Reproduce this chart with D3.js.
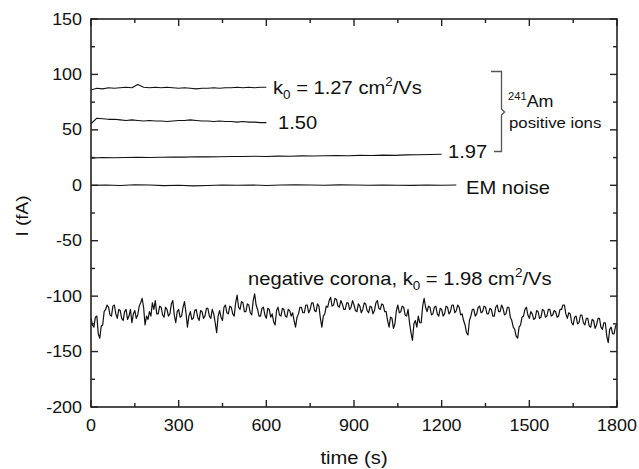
<!DOCTYPE html>
<html>
<head>
<meta charset="utf-8" />
<script src="https://d3js.org/d3.v7.min.js"></script>
<style>
  body { margin: 0; background: #fff; }
  text { font-family: Arial, "Liberation Sans", sans-serif; fill: #111; }
</style>
</head>
<body>
<svg width="639" height="469"></svg>
<script>
// time axis (s) and current (fA)
const xTicks = [0, 300, 600, 900, 1200, 1500, 1800]
const yTicks = [-200, -150, -100, -50, 0, 50, 100, 150]
const xMinor = [150, 450, 750, 1050, 1350, 1650]
const yMinor = [-175, -125, -75, -25, 25, 75, 125]

// 241Am positive ions, k0 = 1.27 (every 20 s, 0..600)
const t127 = d3.range(0, 601, 20)
const v127 = [86, 87.5, 87, 88, 87.5, 88, 88.5, 88, 91, 88.5, 88, 88.5, 88, 88.5, 88, 87.5,
  88, 87.5, 87, 87.5, 87.5, 88, 87.5, 88, 88, 88.5, 88, 88.5, 88, 88.5, 88.5]

// k0 = 1.50 (every 20 s, 0..600)
const t150 = d3.range(0, 601, 20)
const v150 = [55.5, 60.5, 60, 59.5, 59.5, 59, 58.5, 59, 58.5, 58, 58.5, 58, 58, 57.5, 58, 58.5,
  58.5, 59, 58.5, 58, 58, 57.5, 58, 57.5, 57.5, 57, 57.5, 57, 57, 56.5, 56.5]

// k0 = 1.97 (every 40 s, 0..1200)
const t197 = d3.range(0, 1201, 40)
const v197 = [24.5, 25, 24.8, 25, 25.2, 25, 25.3, 25.5, 25.4, 25.8, 25.6, 25.8, 26, 25.9, 26.2, 26,
  26.3, 26.2, 26.5, 26.4, 26.6, 26.8, 26.7, 27, 26.9, 27.2, 27, 27.4, 27.5, 27.8, 28]

// EM noise (every 50 s, 0..1250)
const tEM = d3.range(0, 1251, 50)
const vEM = [0, 0.3, -0.2, 0.5, 0.2, -0.3, 0, -0.5, -0.2, 0.2, 0, 0.3, -0.2, 0.2, 0.5, 0.3,
  0, 0.4, 0.2, 0, 0.3, 0.1, -0.1, 0.2, 0, 0.2]

// negative corona, k0 = 1.98 (every 5 s, 0..1800), one row = 100 s
const tNeg = d3.range(0, 1801, 5)
const vNeg = [
  -120, -126, -128, -119, -118, -134, -138, -127, -126, -114, -112, -108, -110, -117, -118, -109, -108, -116, -120, -112,
  -113, -120, -122, -114, -112, -121, -118, -112, -124, -116, -113, -120, -117, -109, -106, -102, -110, -126, -118, -121,
  -114, -118, -106, -112, -104, -116, -116, -109, -110, -117, -119, -110, -112, -118, -116, -107, -104, -117, -124, -114,
  -112, -119, -118, -110, -105, -115, -128, -118, -114, -121, -120, -113, -112, -119, -122, -113, -114, -120, -118, -111,
  -111, -118, -120, -112, -116, -124, -133, -118, -113, -119, -122, -110, -108, -115, -116, -109, -110, -116, -118, -106,
  -99, -110, -112, -105, -106, -114, -114, -107, -108, -115, -117, -104, -98, -108, -112, -118, -118, -111, -110, -117,
  -120, -111, -112, -119, -116, -123, -126, -113, -110, -117, -118, -111, -112, -118, -119, -112, -113, -118, -115, -122,
  -128, -119, -116, -110, -110, -115, -115, -108, -108, -115, -112, -106, -106, -113, -114, -107, -109, -120, -128, -118,
  -116, -109, -110, -104, -101, -109, -108, -102, -103, -109, -110, -104, -107, -112, -112, -106, -106, -112, -110, -104,
  -108, -113, -114, -107, -109, -115, -112, -106, -107, -113, -115, -109, -110, -116, -113, -106, -104, -111, -112, -107,
  -108, -114, -114, -122, -128, -119, -120, -129, -125, -113, -108, -115, -114, -109, -110, -117, -118, -112, -124, -133,
  -140, -125, -122, -128, -118, -124, -124, -109, -102, -110, -114, -109, -110, -117, -116, -110, -109, -116, -118, -111,
  -112, -118, -116, -109, -110, -116, -114, -108, -108, -115, -113, -108, -110, -117, -116, -122, -126, -133, -135, -122,
  -118, -112, -112, -118, -116, -110, -109, -115, -114, -109, -110, -116, -116, -111, -112, -118, -118, -110, -108, -114,
  -114, -108, -111, -117, -116, -110, -110, -119, -122, -128, -130, -136, -138, -128, -126, -119, -118, -112, -110, -117,
  -120, -114, -116, -121, -120, -113, -114, -120, -119, -112, -113, -119, -118, -112, -112, -118, -117, -113, -114, -119,
  -118, -112, -112, -108, -108, -116, -120, -115, -116, -124, -126, -119, -118, -125, -124, -117, -117, -124, -126, -120,
  -120, -127, -128, -121, -122, -129, -126, -120, -120, -128, -130, -124, -124, -136, -142, -130, -128, -134, -134, -127,
  -125]

const margin = { left: 91, top: 19, right: 22, bottom: 62 }
const W = 639 - margin.left - margin.right
const H = 469 - margin.top - margin.bottom
const stretch = 'scale(1.12,1)'

const svg = d3.select('svg')
const g = svg.append('g').attr('transform', `translate(${margin.left},${margin.top})`)

const x = d3.scaleLinear().domain([0, 1800]).range([0, W])
const y = d3.scaleLinear().domain([-200, 150]).range([H, 0])

const line = d3.line().x((d) => x(d[0])).y((d) => y(d[1]))
const pairs = (ts, vs) => ts.map((t, i) => [t, vs[i]])

const series = [
  [pairs(t127, v127), 1.1],
  [pairs(t150, v150), 1.1],
  [pairs(t197, v197), 1.1],
  [pairs(tEM, vEM), 1.1],
  [pairs(tNeg, vNeg), 1.2],
]
g.selectAll('path.s')
  .data(series)
  .enter()
  .append('path')
  .attr('class', 's')
  .attr('d', (d) => line(d[0]))
  .attr('fill', 'none')
  .attr('stroke', '#111')
  .attr('stroke-width', (d) => d[1])
  .attr('stroke-linejoin', 'round')

g.append('rect')
  .attr('width', W).attr('height', H)
  .attr('fill', 'none').attr('stroke', '#222').attr('stroke-width', 1.6)

// inward ticks on all four sides as small filled bars (major 7px, minor 4px)
const tickBars = []
xTicks.forEach((v) => tickBars.push({ ax: 'x', v, len: 7 }))
xMinor.forEach((v) => tickBars.push({ ax: 'x', v, len: 4 }))
yTicks.forEach((v) => tickBars.push({ ax: 'y', v, len: 7 }))
yMinor.forEach((v) => tickBars.push({ ax: 'y', v, len: 4 }))
const bars = []
tickBars.forEach((d) => {
  if (d.ax === 'x') {
    bars.push({ bx: x(d.v) - 0.7, by: H - d.len, bw: 1.4, bh: d.len })
    bars.push({ bx: x(d.v) - 0.7, by: 0, bw: 1.4, bh: d.len })
  } else {
    bars.push({ bx: 0, by: y(d.v) - 0.7, bw: d.len, bh: 1.4 })
    bars.push({ bx: W - d.len, by: y(d.v) - 0.7, bw: d.len, bh: 1.4 })
  }
})
g.selectAll('rect.tick')
  .data(bars)
  .enter()
  .append('rect')
  .attr('class', 'tick')
  .attr('x', (d) => d.bx)
  .attr('y', (d) => d.by)
  .attr('width', (d) => d.bw)
  .attr('height', (d) => d.bh)
  .attr('fill', '#222')

// tick labels
g.selectAll('g.xt')
  .data(xTicks)
  .enter()
  .append('g')
  .attr('class', 'xt')
  .attr('transform', (d) => `translate(${x(d)},${H + 24}) ${stretch}`)
  .append('text')
  .attr('text-anchor', 'middle')
  .attr('font-size', 16)
  .text((d) => String(d))
g.selectAll('g.yt')
  .data(yTicks)
  .enter()
  .append('g')
  .attr('class', 'yt')
  .attr('transform', (d) => `translate(-9,${y(d) + 5.5}) ${stretch}`)
  .append('text')
  .attr('text-anchor', 'end')
  .attr('font-size', 16)
  .text((d) => String(d))

// axis titles
svg.append('g').attr('transform', `translate(354,464) ${stretch}`)
  .append('text').attr('text-anchor', 'middle').attr('font-size', 18).text('time  (s)')
svg.append('g').attr('transform', 'translate(28,216) rotate(-90) scale(1.12,1)')
  .append('text').attr('text-anchor', 'middle').attr('font-size', 17).text('I  (fA)')

// annotations
function note(px, py, size) {
  return svg.append('g').attr('transform', `translate(${px},${py}) ${stretch}`)
    .append('text').attr('font-size', size)
}
function kLabel(t, pre, val) {
  t.append('tspan').text(pre + 'k')
  t.append('tspan').attr('font-size', 12).attr('dy', 5).text('0')
  t.append('tspan').attr('dy', -5).text(' = ' + val + ' cm')
  t.append('tspan').attr('font-size', 12).attr('dy', -8).text('2')
  t.append('tspan').attr('dy', 8).text('/Vs')
}
kLabel(note(273, 94, 18), '', '1.27')
note(278, 129, 18).text('1.50')
note(448, 158, 18).text('1.97')
note(466, 194, 18).text('EM noise')
kLabel(note(248, 285, 18), 'negative corona, ', '1.98')

const iso = note(508, 107, 16)
iso.append('tspan').attr('font-size', 10).attr('dy', -7).text('241')
iso.append('tspan').attr('dy', 7).text('Am')
note(509, 128, 15).text('positive ions')

// bracket grouping the three 241Am traces
svg.append('path')
  .attr('d', 'M491,71.5 H501.5 V109 L504.5,112 L501.5,115 V151.5 H494')
  .attr('fill', 'none').attr('stroke', '#555').attr('stroke-width', 1.3)
</script>
</body>
</html>
